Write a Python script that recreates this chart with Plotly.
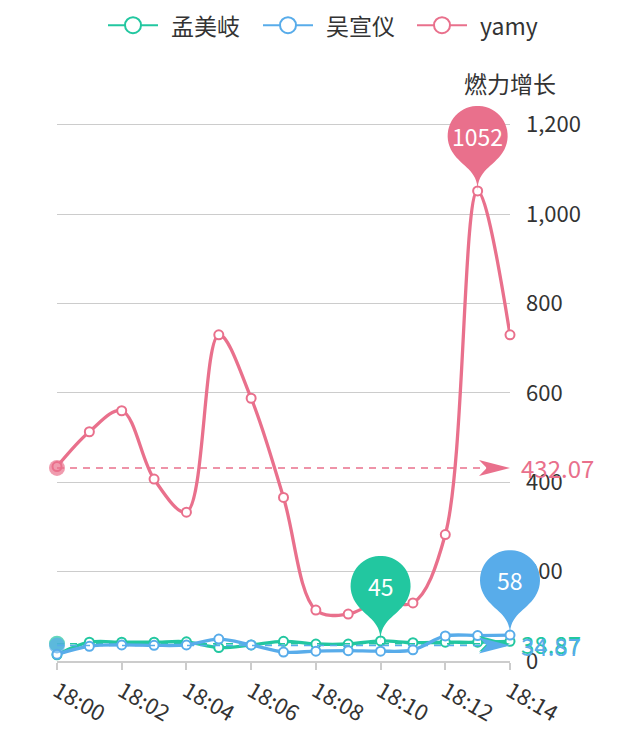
import numpy as np
import plotly.graph_objects as go

# 时间轴
times = ['18:00', '18:01', '18:02', '18:03', '18:04', '18:05', '18:06', '18:07',
         '18:08', '18:09', '18:10', '18:11', '18:12', '18:13', '18:14']

names = ['孟美岐', '吴宣仪', 'yamy']
colors = ['#22c7a0', '#58acea', '#e9708c']

meng_meiqi = [14, 42, 42, 42, 43, 30, 36, 44, 38, 38, 45, 41, 42, 42, 44]
wu_xuanyi = [15, 33, 36, 35, 36, 49, 36, 20, 22, 23, 22, 25, 56, 57, 58]
yamy = [435, 513, 560, 407, 333, 730, 588, 366, 114, 105, 135, 130, 283, 1052, 730]

y_ticks = [0, 200, 400, 600, 800, 1000, 1200]
y_title = '燃力增长'

series = [meng_meiqi, wu_xuanyi, yamy]
FONT = 'Noto Sans CJK SC, Noto Sans, sans-serif'

# page has an 8px body margin, so the figure is a bit smaller than the window
W, H = 634, 731
L, R, T, B = 49, 132, 81, 76


def pin_path(r=30, d=55):
    # teardrop like the echarts 'pin' symbol, tip at (0,0), pixels, y up
    dy = r * r / d
    a = np.arcsin(dy / r)
    dx = np.cos(a) * r
    ts = np.linspace(np.pi + a, -a, 40)
    pts = ['%.2f,%.2f' % (r * np.cos(t), d + r * np.sin(t)) for t in ts]
    cp = r * 0.6
    cp2 = r * 0.7
    c1 = (dx - np.sin(a) * cp, d - dy - np.cos(a) * cp)
    p = 'M' + ' L'.join(pts)
    p += ' C%.2f,%.2f 0,%.2f 0,0' % (c1[0], c1[1], cp2)
    p += ' C0,%.2f %.2f,%.2f %.2f,%.2f Z' % (cp2, -c1[0], c1[1], -dx, d - dy)
    return p


def arrow_path(length=31, width=16):
    # echarts style arrow pointing right, tip at (0,0)
    return 'M0,0 L%.1f,%.1f L%.1f,0 L%.1f,%.1f Z' % (
        -length, width / 2, -length * 0.75, -length, -width / 2)


def to_paper(px, py):
    # figure pixels -> paper coords (for the hand drawn legend)
    return (px - L) / (W - L - R), (H - B - py) / (H - T - B)


fig = go.Figure()
shapes = []
annotations = []
n = len(times)

for name, color, vals in zip(names, colors, series):
    fig.add_trace(go.Scatter(
        x=times, y=vals, mode='lines+markers', name=name, showlegend=False,
        line=dict(color=color, width=3.3, shape='spline', smoothing=1),
        marker=dict(size=9, color='white', line=dict(color=color, width=2)),
        cliponaxis=False, hoverinfo='skip',
    ))
    avg = float(np.mean(vals))
    fig.add_trace(go.Scatter(
        x=[times[0], times[-1]], y=[avg, avg], mode='lines+markers', showlegend=False,
        line=dict(color=color, width=1.5, dash='7px,6px'),
        marker=dict(size=[16, 0], color=color, line=dict(width=0)),
        cliponaxis=False, hoverinfo='skip',
    ))
    shapes.append(dict(
        type='path', xref='paper', yref='y', xsizemode='pixel', ysizemode='pixel',
        xanchor=1, yanchor=avg, path=arrow_path(),
        fillcolor=color, line=dict(width=0), layer='above',
    ))
    annotations.append(dict(
        x=times[-1], y=avg, xref='x', yref='y', text='%.2f' % avg, showarrow=False,
        xanchor='left', xshift=9, font=dict(size=24, color=color, family=FONT),
    ))
    # 最大值气泡
    i = int(np.argmax(vals))
    shapes.append(dict(
        type='path', xref='paper', yref='y', xsizemode='pixel', ysizemode='pixel',
        xanchor=i / (n - 1), yanchor=vals[i], path=pin_path(),
        fillcolor=color, line=dict(width=0), layer='above',
    ))
    annotations.append(dict(
        x=times[i], y=vals[i], xref='x', yref='y', text=str(vals[i]), showarrow=False,
        yshift=55, font=dict(size=23, color='white', family=FONT),
    ))

# legend drawn by hand: 50px line, hollow circle, label
legend_x = [100, 255, 409]
for lx, name, color in zip(legend_x, names, colors):
    x0, y0 = to_paper(lx, 17)
    x1, _ = to_paper(lx + 50, 17)
    xc, _ = to_paper(lx + 25, 17)
    shapes.append(dict(type='line', xref='paper', yref='paper', x0=x0, x1=x1, y0=y0, y1=y0,
                       line=dict(color=color, width=2)))
    shapes.append(dict(type='circle', xref='paper', yref='paper', xsizemode='pixel',
                       ysizemode='pixel', xanchor=xc, yanchor=y0, x0=-8, x1=8, y0=-8, y1=8,
                       fillcolor='white', line=dict(color=color, width=2)))
    xt, _ = to_paper(lx + 61, 17)
    annotations.append(dict(x=xt, y=y0, xref='paper', yref='paper', text=name,
                            showarrow=False, xanchor='left', yanchor='middle',
                            font=dict(size=23, color='#333', family=FONT)))

annotations.append(dict(
    x=1, y=y_ticks[-1], xref='paper', yref='y', text=y_title, showarrow=False,
    xanchor='center', yshift=42, font=dict(size=23, color='#333', family=FONT),
))

fig.update_layout(
    width=W, height=H,
    margin=dict(l=L, r=R, t=T, b=B),
    paper_bgcolor='white', plot_bgcolor='white',
    font=dict(family=FONT, size=22, color='#333'),
    showlegend=False,
    shapes=shapes,
    annotations=annotations,
)
fig.update_xaxes(
    type='category', categoryorder='array', categoryarray=times,
    range=[0, n - 1], tickvals=times[::2],
    showline=True, linecolor='#cccccc', linewidth=1.5,
    ticks='outside', ticklen=7, tickcolor='#cccccc', tickwidth=1.5,
    tickangle=30, showgrid=False, zeroline=False,
    tickfont=dict(size=22, color='#333'),
)
fig.update_yaxes(
    side='right', range=[0, 1280], tickvals=y_ticks, tickformat=',',
    showgrid=True, gridcolor='#cccccc', gridwidth=1, zeroline=False,
    showline=False, ticks='', ticklabelstandoff=15,
    tickfont=dict(size=22, color='#333'),
)

fig.write_html('out.html')
